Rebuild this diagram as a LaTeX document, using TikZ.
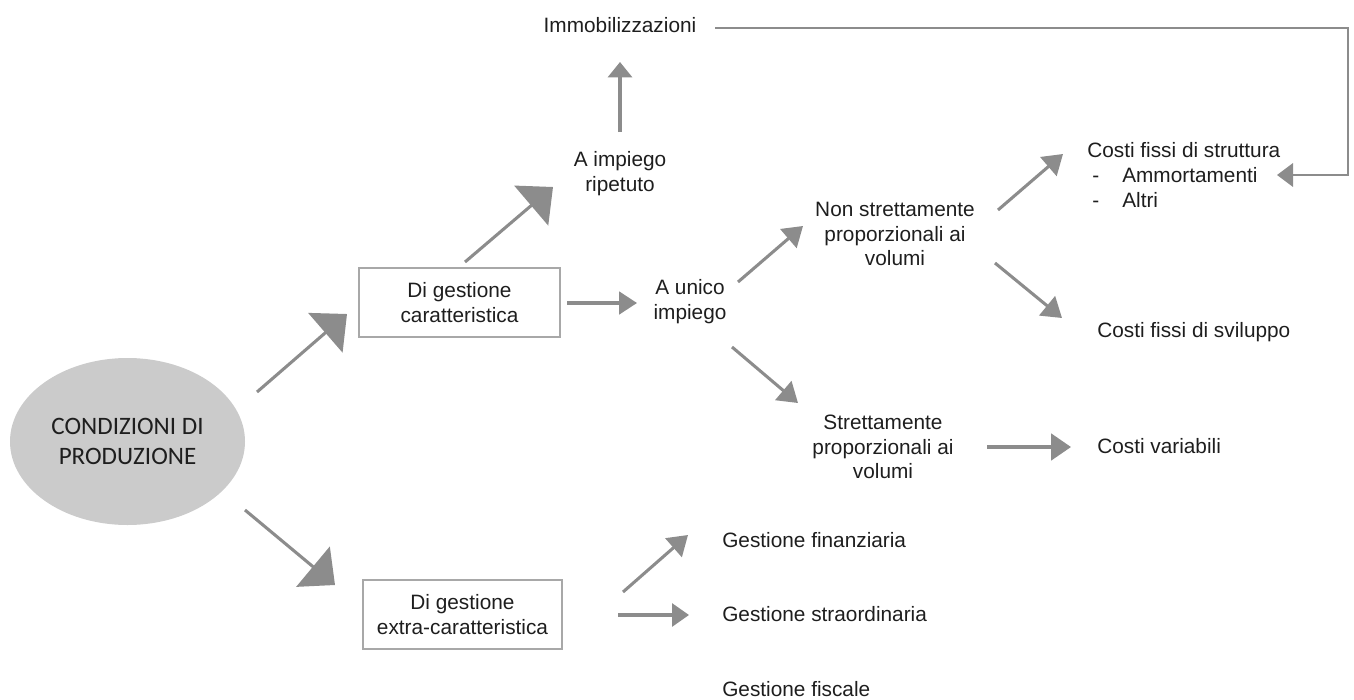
\documentclass[tikz,border=0pt]{standalone}
\usepackage{fontspec}
\setmainfont{Liberation Sans}
\newfontfamily\calibrifont{Carlito}
\usetikzlibrary{arrows.meta,shapes.geometric}

\definecolor{linkgray}{HTML}{8C8C8C}
\definecolor{boxgray}{HTML}{A8A8A8}
\definecolor{ovalgray}{HTML}{CBCBCB}
\definecolor{inkgray}{HTML}{1E1E1E}

\tikzset{
  label/.style={inner sep=0pt, text=inkgray, font=\fontsize{15.6}{18.6}\selectfont},
  multiline/.style={label, align=center},
  framebox/.style={draw=boxgray, line width=1.1pt, fill=white, inner sep=0pt,
    align=center, text=inkgray, font=\fontsize{15.6}{18.2}\selectfont},
  link/.style={draw=linkgray, line width=2.3pt},
  bigtip/.style={link, -{Triangle[length=21.5pt,width=39pt]}},
  midtip/.style={link, -{Triangle[length=14.5pt,width=18.5pt]}},
  uptip/.style={link, -{Triangle[length=11.5pt,width=18pt]}},
  flattip/.style={link, -{Triangle[length=13.5pt,width=17pt]}},
}

\begin{document}
\begin{tikzpicture}[x=0.75pt, y=-0.75pt]
  \useasboundingbox (0,0) rectangle (1354,700);

  % central oval
  \node[ellipse, fill=ovalgray, minimum width=176.25pt, minimum height=125.25pt,
        inner sep=0pt, align=center, text=inkgray,
        font=\calibrifont\fontsize{18.8}{22.5}\selectfont]
        (prod) at (127.5,441.5) {CONDIZIONI DI\\PRODUZIONE};

  % first level boxes
  \node[framebox, minimum width=150.75pt, minimum height=51.75pt]
        (caratt) at (459.5,302.5) {Di gestione\\caratteristica};
  \node[framebox, minimum width=149.25pt, minimum height=51.75pt]
        (extra) at (462.5,614.5) {Di gestione\\extra-caratteristica};

  % characteristic branch
  \node[multiline] (ripetuto) at (620,174) {A impiego\\ripetuto};
  \node[label] (immob) at (620,25) {Immobilizzazioni};
  \node[multiline] (unico) at (690,302) {A unico\\impiego};
  \node[multiline] (nonstr) at (895,234) {Non strettamente\\proporzionali ai\\volumi};
  \node[multiline] (strett) at (883,447) {Strettamente\\proporzionali ai\\volumi};

  \node[label, anchor=base west] (struttura) at (1087,157) {Costi fissi di struttura};
  \node[label, anchor=base west] (dashA) at (1092,182) {-};
  \node[label, anchor=base west] (ammort) at (1122,182) {Ammortamenti};
  \node[label, anchor=base west] (dashB) at (1092,207) {-};
  \node[label, anchor=base west] (altri) at (1122,207) {Altri};
  \node[label, anchor=base west] (sviluppo) at (1097,337) {Costi fissi di sviluppo};
  \node[label, anchor=base west] (variabili) at (1097,453) {Costi variabili};

  % extra-characteristic branch
  \node[label, anchor=base west] (finanz) at (722,547) {Gestione finanziaria};
  \node[label, anchor=base west] (straord) at (722,621) {Gestione straordinaria};
  \node[label, anchor=base west] (fiscale) at (722,696) {Gestione fiscale};

  % connector end points
  \coordinate (p1s) at (257,392);  \coordinate (p1e) at (347,314);
  \coordinate (p2s) at (245,510);  \coordinate (p2e) at (335,585);
  \coordinate (p3s) at (465,262);  \coordinate (p3e) at (553,187);
  \coordinate (p4s) at (620,132);  \coordinate (p4e) at (620,62);
  \coordinate (p5s) at (567,303);  \coordinate (p5e) at (637,303);
  \coordinate (p6s) at (738,282);  \coordinate (p6e) at (803,226);
  \coordinate (p7s) at (732,347);  \coordinate (p7e) at (798,403);
  \coordinate (p8s) at (998,210);  \coordinate (p8e) at (1063,154);
  \coordinate (p9s) at (995,263);  \coordinate (p9e) at (1062,318);
  \coordinate (p10s) at (987,447); \coordinate (p10e) at (1071,447);
  \coordinate (p11s) at (715,28);  \coordinate (p11c) at (1348,28);
  \coordinate (p11d) at (1348,175); \coordinate (p11e) at (1277,175);
  \coordinate (p12s) at (623,592); \coordinate (p12e) at (688,535);
  \coordinate (p13s) at (618,615); \coordinate (p13e) at (689,615);

  % connectors
  \draw[bigtip] (p1s) -- (p1e);
  \draw[bigtip] (p2s) -- (p2e);
  \draw[bigtip] (p3s) -- (p3e);
  \draw[uptip]  (p4s) -- (p4e);
  \draw[flattip] (p5s) -- (p5e);
  \draw[midtip] (p6s) -- (p6e);
  \draw[midtip] (p7s) -- (p7e);
  \draw[midtip] (p8s) -- (p8e);
  \draw[midtip] (p9s) -- (p9e);
  \draw[link, -{Triangle[length=15pt,width=20pt]}] (p10s) -- (p10e);
  \draw[link, line width=1.8pt, -{Triangle[length=12pt,width=17.5pt]}]
        (p11s) -- (p11c) -- (p11d) -- (p11e);
  \draw[midtip] (p12s) -- (p12e);
  \draw[link, -{Triangle[length=12.75pt,width=17.25pt]}] (p13s) -- (p13e);
\end{tikzpicture}
\end{document}
